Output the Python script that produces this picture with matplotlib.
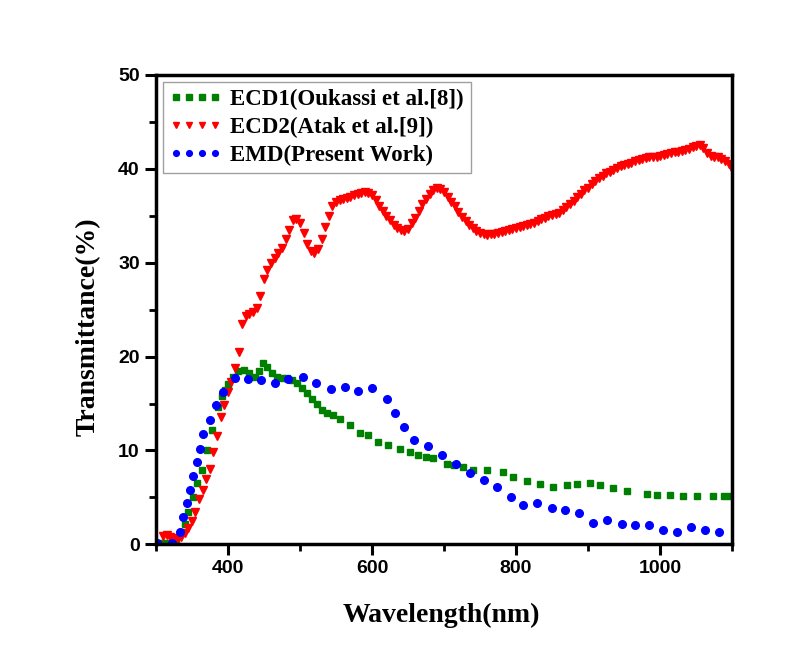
import matplotlib
matplotlib.use("Agg")
import matplotlib.pyplot as plt
from matplotlib.ticker import MultipleLocator

# ECD1 (Oukassi et al.) - green squares
ecd1_x = [305, 312, 320, 328, 335, 340, 345, 351, 357, 364, 371, 378, 386, 392, 396, 400,
          407, 414, 422, 430, 437, 443, 449, 455, 461, 468, 475, 482, 489, 496, 503, 510,
          517, 524, 531, 538, 546, 556, 569, 583, 594, 608, 622, 639, 653, 664, 675, 685,
          704, 714, 726, 740, 760, 782, 796, 815, 833, 851, 871, 885, 903, 917, 935, 954,
          982, 996, 1014, 1032, 1051, 1074, 1088, 1097]
ecd1_y = [0.1, 0.1, 0.2, 0.4, 1.2, 2.2, 3.5, 5.0, 6.5, 7.9, 10.0, 12.2, 14.6, 15.8, 16.4, 17.1,
          17.8, 18.5, 18.6, 18.2, 17.8, 18.5, 19.3, 18.9, 18.3, 17.8, 17.7, 17.7, 17.5, 17.2, 16.7, 16.1,
          15.5, 15.0, 14.3, 14.0, 13.8, 13.4, 12.7, 11.9, 11.6, 10.9, 10.6, 10.2, 9.8, 9.5, 9.3, 9.2,
          8.6, 8.5, 8.2, 7.9, 7.9, 7.7, 7.2, 6.8, 6.4, 6.1, 6.3, 6.4, 6.5, 6.3, 6.0, 5.7,
          5.4, 5.3, 5.3, 5.2, 5.2, 5.2, 5.1, 5.2]

# ECD2 (Atak et al.) - red down triangles, 5 nm grid
ecd2_x = list(range(310, 1105, 5))
ecd2_y = [0.9, 1.0, 0.8, 0.7, 0.6, 0.8, 1.2, 1.7, 2.5, 3.5, 4.8, 5.8, 7.0, 8.0, 9.8, 11.5,
          13.6, 14.8, 16.2, 17.3, 18.8, 20.5, 23.5, 24.3, 24.5, 24.7, 25.2, 26.5, 28.3, 29.2, 30.0, 30.5,
          31.0, 31.6, 32.5, 33.5, 34.5, 34.6, 34.2, 33.2, 32.0, 31.2, 31.0, 31.5, 32.5, 33.8, 35.0, 36.0,
          36.5, 36.7, 36.8, 36.9, 37.0, 37.2, 37.3, 37.4, 37.5, 37.4, 37.2, 36.7, 36.0, 35.5, 35.0, 34.5,
          34.0, 33.7, 33.5, 33.4, 33.6, 34.2, 34.8, 35.5, 36.2, 36.8, 37.3, 37.7, 37.9, 37.8, 37.5, 37.0,
          36.5, 36.0, 35.4, 34.9, 34.4, 34.0, 33.7, 33.4, 33.2, 33.0, 32.9, 33.0, 33.1, 33.2, 33.3, 33.4,
          33.5, 33.6, 33.7, 33.8, 33.9, 34.0, 34.1, 34.2, 34.4, 34.6, 34.8, 35.0, 35.1, 35.2, 35.3, 35.6,
          35.9, 36.2, 36.6, 37.0, 37.3, 37.7, 38.0, 38.4, 38.7, 39.0, 39.2, 39.5, 39.7, 39.9, 40.1, 40.3,
          40.4, 40.5, 40.6, 40.8, 40.9, 41.0, 41.1, 41.2, 41.3, 41.3, 41.4, 41.5, 41.6, 41.7, 41.8, 41.8,
          41.9, 42.0, 42.1, 42.3, 42.4, 42.5, 42.2, 41.7, 41.4, 41.3, 41.2, 41.0, 40.8, 40.5, 40.0]

# EMD (present work) - blue circles
emd_x = [301, 322, 333, 338, 343, 347, 351, 357, 361, 365, 375, 384, 393, 410, 428, 446, 465,
         484, 504, 523, 543, 562, 581, 600, 621, 632, 644, 658, 678, 697, 717, 736, 756, 774,
         793, 810, 829, 850, 868, 888, 907, 926, 947, 965, 985, 1004, 1024, 1043, 1062, 1082]
emd_y = [0.1, 0.2, 1.3, 2.9, 4.4, 5.8, 7.3, 8.8, 10.2, 11.8, 13.2, 14.8, 16.2, 17.7, 17.6, 17.5, 17.2,
         17.6, 17.8, 17.2, 16.5, 16.8, 16.3, 16.6, 15.5, 14.0, 12.5, 11.1, 10.5, 9.5, 8.6, 7.6, 6.9, 6.1,
         5.0, 4.2, 4.4, 3.9, 3.7, 3.3, 2.3, 2.6, 2.2, 2.1, 2.1, 1.5, 1.3, 1.9, 1.5, 1.3]

serif = "Liberation Serif"
sans = "Liberation Sans"

fig = plt.figure(figsize=(7.95, 6.45), dpi=100)
ax = fig.add_axes([0.196, 0.156, 0.725, 0.728])

ax.plot(ecd1_x, ecd1_y, ls="none", marker="s", ms=5, color="#008000",
        label="ECD1(Oukassi et al.[8])")
ax.plot(ecd2_x, ecd2_y, ls="none", marker="v", ms=6.4, color="#FF0000",
        label="ECD2(Atak et al.[9])")
ax.plot(emd_x, emd_y, ls="none", marker="o", ms=5.5, color="#0000FF",
        label="EMD(Present Work)")

ax.set_xlim(300, 1100)
ax.set_ylim(0, 50)
ax.xaxis.set_major_locator(MultipleLocator(200))
ax.xaxis.set_minor_locator(MultipleLocator(100))
ax.yaxis.set_major_locator(MultipleLocator(10))
ax.yaxis.set_minor_locator(MultipleLocator(5))
ax.set_xticks([400, 600, 800, 1000])

for s in ax.spines.values():
    s.set_linewidth(2.5)
ax.tick_params(which="major", direction="out", length=8, width=2.2)
ax.tick_params(which="minor", direction="out", length=5, width=2)
for lab in ax.get_xticklabels() + ax.get_yticklabels():
    lab.set_fontfamily(sans)
    lab.set_fontweight("bold")
    lab.set_fontsize(14)

ax.set_xlabel("Wavelength(nm)", fontfamily=serif, fontweight="bold", fontsize=20)
ax.set_ylabel("Transmittance(%)", fontfamily=serif, fontweight="bold", fontsize=20)
ax.xaxis.set_label_coords(0.495, -0.125)
ax.yaxis.set_label_coords(-0.095, 0.463)

leg = ax.legend(loc="upper left", numpoints=4, markerscale=0.75, handlelength=2.3,
                handletextpad=0.35, borderaxespad=0.3, borderpad=0.3, labelspacing=0.3,
                fancybox=False, prop={"family": serif, "weight": "bold", "size": 16.5})
leg.get_frame().set_edgecolor("#888888")
leg.get_frame().set_linewidth(1)

fig.savefig("out.png", dpi=100)
